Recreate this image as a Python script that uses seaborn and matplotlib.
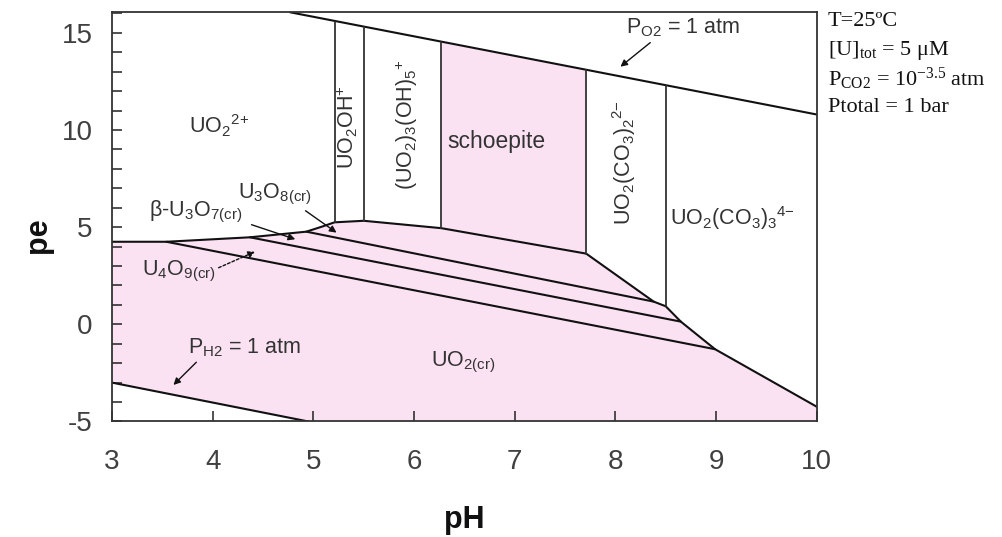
import matplotlib
matplotlib.use("Agg")
import matplotlib.pyplot as plt
from matplotlib.ticker import MultipleLocator
import numpy as np
import pandas as pd
import seaborn as sns

# ---------------- data ----------------
# upper boundary of the solid (pink) field: UO2(cr), U4O9, U3O7, U3O8
upper_pH = [3.00, 3.54, 4.37, 4.93, 5.08, 5.21, 5.50, 6.27, 7.71, 8.38, 8.50, 8.65, 8.99, 10.00]
upper_pe = [4.25, 4.25, 4.48, 4.77, 5.02, 5.25, 5.33, 4.95, 3.64, 1.17, 0.93, 0.14, -1.28, -4.24]

# solid/solid boundaries inside the pink field
u3o8_pH = [4.93, 8.38]
u3o8_pe = [4.77, 1.17]
u3o7_pH = [4.37, 8.65]
u3o7_pe = [4.48, 0.14]
u4o9_pH = [3.54, 8.99]
u4o9_pe = [4.25, -1.28]

# water stability lines
o2_pH = [4.77, 10.00]
o2_pe = [16.06, 10.80]
h2_pH = [3.00, 4.95]
h2_pe = [-3.00, -5.00]

# vertical aqueous boundaries
vert_pH = [5.21, 5.50, 6.27, 7.71, 8.50]
vert_bottom = [5.25, 5.33, 4.95, 3.64, 0.93]
vert_top = [15.57, 15.28, 14.51, 13.07, 12.28]

# schoepite field
schoep_pH = [6.27, 6.27, 7.71, 7.71]
schoep_pe = [4.95, 14.51, 13.07, 3.64]

x_ticks = [3, 4, 5, 6, 7, 8, 9, 10]
y_ticks = [-5, 0, 5, 10, 15]

# ---------------- style ----------------
sns.set_style("white")
plt.rcParams["font.family"] = ["Liberation Sans", "DejaVu Sans"]
plt.rcParams["mathtext.default"] = "regular"
plt.rcParams["axes.unicode_minus"] = False

PINK = "#fbe2f3"
TXT = "#333333"

fig = plt.figure(figsize=(10.03, 5.37), dpi=100)
ax = fig.add_axes([0.1117, 0.2151, 0.7026, 0.7620])

# fills
solid_x = upper_pH + [10.0] + h2_pH[::-1]
solid_y = upper_pe + [-5.0] + h2_pe[::-1]
ax.fill(solid_x, solid_y, color=PINK, lw=0, zorder=0)
ax.fill(schoep_pH, schoep_pe, color=PINK, lw=0, zorder=0)

# lines via seaborn
rows = []
def add(name, xs, ys):
    for x, y in zip(xs, ys):
        rows.append({"seg": name, "pH": x, "pe": y})

add("upper", upper_pH, upper_pe)
add("u3o8", u3o8_pH, u3o8_pe)
add("u3o7", u3o7_pH, u3o7_pe)
add("u4o9", u4o9_pH, u4o9_pe)
add("o2", o2_pH, o2_pe)
add("h2", h2_pH, h2_pe)
lines = pd.DataFrame(rows)
sns.lineplot(data=lines, x="pH", y="pe", units="seg", estimator=None, sort=False,
             color="#111111", lw=1.5, ax=ax, legend=False)

vrows = []
for i, (x, b, t) in enumerate(zip(vert_pH, vert_bottom, vert_top)):
    vrows.append({"seg": i, "pH": x, "pe": b})
    vrows.append({"seg": i, "pH": x, "pe": t})
vdf = pd.DataFrame(vrows)
sns.lineplot(data=vdf, x="pH", y="pe", units="seg", estimator=None, sort=False,
             color="#333333", lw=1.3, ax=ax, legend=False)

# axes
ax.set_xlim(3, 10)
ax.set_ylim(-5, 16.06)
ax.set_xticks(x_ticks)
ax.set_yticks(y_ticks)
ax.yaxis.set_minor_locator(MultipleLocator(1))
ax.tick_params(which="both", direction="in", length=7, width=1.1, color="#222222",
               top=False, right=False, bottom=True, left=True)
ax.tick_params(axis="x", which="major", pad=20, labelsize=20, labelcolor="#404040")
ax.tick_params(axis="y", which="major", pad=14, labelsize=20, labelcolor="#404040")
for s in ax.spines.values():
    s.set_color("#333333")
    s.set_linewidth(1.3)

ax.set_xlabel("pH", fontsize=22, fontweight="bold", color="#111111")
ax.set_ylabel("pe", fontsize=22, fontweight="bold", color="#111111")
ax.xaxis.label.set_va("center")
ax.yaxis.label.set_va("center")
ax.xaxis.set_label_coords(0.4993, -0.241)
ax.yaxis.set_label_coords(-0.1055, 0.456)

# field labels
fs = 15.5
ax.text(4.06, 10.2, "UO$_2$$^{2{+}}$", fontsize=fs, color=TXT, ha="center", va="center")
ax.text(5.34, 10.17, "UO$_2$OH$^{{+}}$", fontsize=fs, color=TXT, ha="center", va="center", rotation=90)
ax.text(5.93, 10.3, "(UO$_2$)$_3$(OH)$_5$$^{{+}}$", fontsize=fs, color=TXT, ha="center", va="center", rotation=90)
ax.text(6.82, 9.4, "schoepite", fontsize=16.5, color=TXT, ha="center", va="center")
ax.text(8.09, 8.35, "UO$_2$(CO$_3$)$_2$$^{2{-}}$", fontsize=fs, color=TXT, ha="center", va="center", rotation=90)
ax.text(8.54, 5.47, "UO$_2$(CO$_3$)$_3$$^{4{-}}$", fontsize=fs, color=TXT, ha="left", va="center")
ax.text(6.49, -1.94, "UO$_{2(cr)}$", fontsize=fs, color=TXT, ha="center", va="center")

arrow = dict(arrowstyle="-|>", color="#111111", lw=1.0, mutation_scale=10, shrinkA=0, shrinkB=0)
ax.annotate("P$_{O2}$ = 1 atm", xy=(8.05, 13.26), xytext=(8.67, 15.25), fontsize=fs, color=TXT,
            ha="center", va="center", arrowprops=dict(arrow, relpos=(0.25, 0.0)))
ax.annotate("P$_{H2}$ = 1 atm", xy=(3.61, -3.12), xytext=(4.32, -1.2), fontsize=fs, color=TXT,
            ha="center", va="center", arrowprops=dict(arrow, relpos=(0.1, 0.0)))
ax.annotate("U$_4$O$_{9(cr)}$", xy=(4.42, 3.74), xytext=(3.66, 2.71), fontsize=fs, color=TXT,
            ha="center", va="center",
            arrowprops=dict(arrow, linestyle=(0, (2, 1.5)), relpos=(1.0, 0.6)))
ax.annotate("β-U$_3$O$_{7(cr)}$", xy=(4.82, 4.38), xytext=(3.83, 5.8), fontsize=fs, color=TXT,
            ha="center", va="center", arrowprops=dict(arrow, relpos=(1.1, 0.0)))
ax.annotate("U$_3$O$_{8(cr)}$", xy=(5.23, 4.72), xytext=(4.62, 6.66), fontsize=fs, color=TXT,
            ha="center", va="center", arrowprops=dict(arrow, relpos=(0.85, 0.0)))

# conditions
cond = ["T=25ºC", "[U]$_{tot}$ = 5 μM", "P$_{CO2}$ = 10$^{-3.5}$ atm", "Ptotal = 1 bar"]
for i, line in enumerate(cond):
    fig.text(828 / 1003, 1 - (22 + 28.5 * i) / 537, line, fontsize=16, color="#111111",
             family=["Liberation Serif", "DejaVu Serif"], ha="left", va="center")

fig.savefig("out.png", dpi=100)
